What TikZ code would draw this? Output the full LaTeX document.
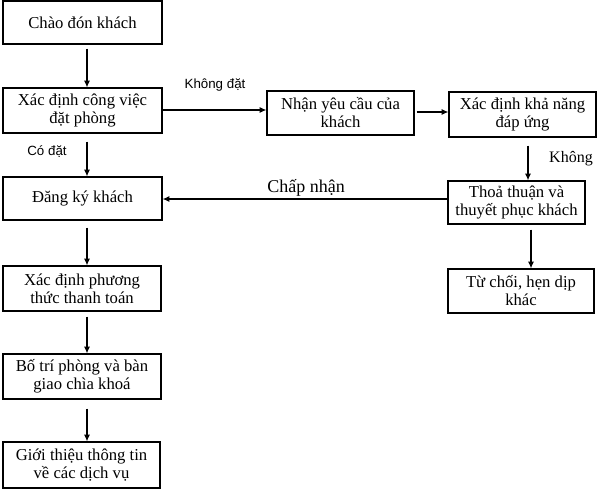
\documentclass[tikz,border=0pt]{standalone}
\usepackage{fontspec}
\setmainfont{Liberation Serif}
\newfontfamily\lblsans{Liberation Sans}
\usetikzlibrary{arrows.meta,calc}
\tikzset{
  box/.style={draw, line width=1pt, inner sep=0pt, align=center,
    font=\fontsize{12.5}{13.5}\selectfont},
  arr/.style={line width=0.8pt, -{Latex[length=5pt,width=4.5pt]}},
  lblsf/.style={font=\lblsans\fontsize{10}{12}\selectfont, inner sep=0pt},
  lblsr/.style={font=\fontsize{12}{14}\selectfont, inner sep=0pt},
  lblbig/.style={font=\fontsize{13.5}{15}\selectfont, inner sep=0pt},
}
\begin{document}
\begin{tikzpicture}[x=0.75pt,y=-0.75pt]
\useasboundingbox (0,0) rectangle (598,493);
% left column
\node[box, minimum width=119.25pt, minimum height=32.25pt] (b1) at (82.5,22.5) {Chào đón khách};
\node[box, minimum width=119.25pt, minimum height=33.75pt] (b2) at (82.5,110.5) {Xác định công việc\\đặt phòng};
\node[box, minimum width=119.25pt, minimum height=32.25pt] (b3) at (82.5,198.5) {Đăng ký khách};
\node[box, minimum width=118.5pt, minimum height=33.75pt] (b4) at (82,288.5) {Xác định phương\\thức thanh toán};
\node[box, minimum width=118.5pt, minimum height=33.75pt] (b5) at (82,376.5) {Bố trí phòng và bàn\\giao chìa khoá};
\node[box, minimum width=117.75pt, minimum height=34.5pt] (b6) at (81.5,465) {Giới thiệu thông tin\\về các dịch vụ};
% right part
\node[box, minimum width=110.25pt, minimum height=33pt] (r1) at (340.5,113) {Nhận yêu cầu của\\khách};
\node[box, minimum width=110.25pt, minimum height=33.75pt] (r2) at (522.5,114.5) {Xác định khả năng\\đáp ứng};
\node[box, minimum width=102.75pt, minimum height=32.25pt] (r3) at (516.5,202.5) {Thoả thuận và\\thuyết phục khách};
\node[box, minimum width=109.5pt, minimum height=33pt] (r4) at (521,291) {Từ chối, hẹn dịp\\khác};
% vertical arrows left
\draw[arr] ($(b1.south)+(4.5,4)$) -- ($(b2.north)+(4.5,0)$);
\draw[arr] ($(b2.south)+(4.5,8)$) -- ($(b3.north)+(4.5,0)$);
\draw[arr] ($(b3.south)+(4.5,7)$) -- ($(b4.north)+(5,0)$);
\draw[arr] ($(b4.south)+(5,5)$) -- ($(b5.north)+(5,0)$);
\draw[arr] ($(b5.south)+(5,9)$) -- ($(b6.north)+(5.5,0)$);
% horizontal arrows
\draw[arr] ($(b2.east)+(0,-0.5)$) -- ($(b2.east -| r1.west)+(0,-0.5)$);
\draw[arr] ($(r1.east)+(2,-1)$) -- ($(r1.east -| r2.west)+(0,-1)$);
\draw[arr] ($(b3.east -| r3.west)+(0,0.5)$) -- ($(b3.east)+(0,0.5)$);
% right vertical arrows
\draw[arr] ($(r2.south)+(5.5,8)$) -- ($(r3.north)+(11.5,0)$);
\draw[arr] ($(r3.south)+(14.5,5)$) -- ($(r4.north)+(10,0)$);
% labels
\node[lblsf] (l1) at (215,85) {Không đặt};
\node[lblsf] (l2) at (47,152) {Có đặt};
\node[lblsr] (l3) at (571,159) {Không};
\node[lblbig] (l4) at (306,188) {Chấp nhận};
\end{tikzpicture}
\end{document}
